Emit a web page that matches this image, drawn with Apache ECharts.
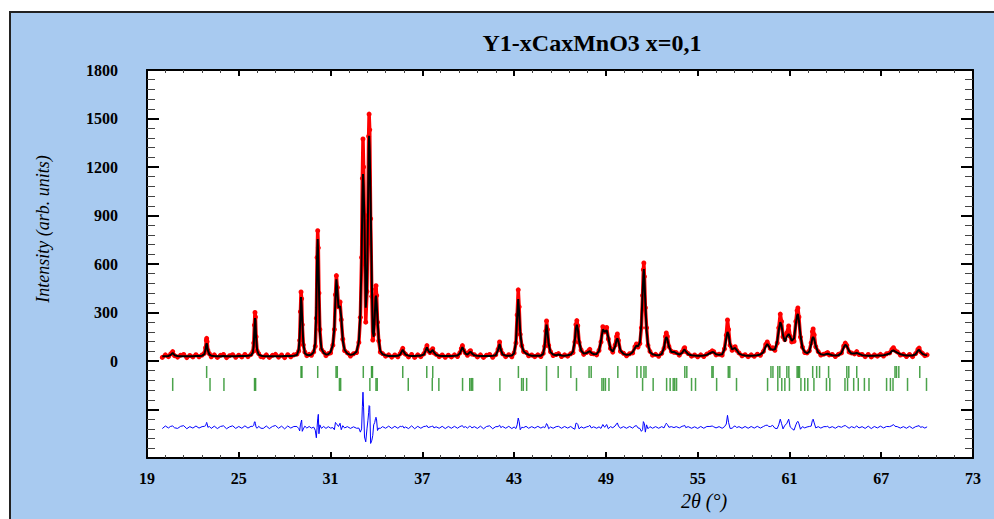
<!DOCTYPE html>
<html>
<head>
<meta charset="utf-8">
<title>Y1-xCaxMnO3 x=0,1</title>
<script src="https://cdn.jsdelivr.net/npm/echarts@6/dist/echarts.min.js"></script>
<style>
  html, body { margin: 0; padding: 0; background: #fff; overflow: hidden; }
  #frame { position: absolute; left: 9px; top: 11px; width: 990px; height: 515px; background: #a8caf0; border-left: 2px solid #222; border-top: 2px solid #222; }
  #chart { position: absolute; left: 0; top: 0; width: 994px; height: 519px; }
</style>
</head>
<body>
<div id="frame"></div>
<div id="chart"></div>
<script>
// rows: [2theta, observed, calculated]
const pattern = [
  [20.0,22,30],[20.2,38,30],[20.4,27,31],[20.55,44,38],[20.68,58,50],[20.8,33,36],[21.0,24,31],[21.2,36,30],[21.4,40,30],[21.6,21,30],
  [21.8,34,30],[22.0,25,30],[22.2,39,31],[22.4,26,31],[22.6,37,33],
  [22.75,48,42],[22.83,82,72],[22.88,128,104],[22.9,140,110],[22.93,120,98],[22.98,66,66],[23.08,45,40],[23.2,26,33],
  [23.4,38,31],[23.6,22,30],[23.8,35,30],[24.0,40,31],[24.2,21,30],[24.4,33,30],[24.6,39,30],[24.8,23,30],[25.0,36,31],[25.2,25,31],
  [25.4,40,31],[25.6,27,32],[25.8,41,35],
  [25.92,58,52],[25.98,112,100],[26.02,222,190],[26.06,300,265],[26.09,272,250],[26.13,150,150],[26.2,62,68],[26.3,46,40],[26.45,27,33],
  [26.6,24,31],[26.8,38,30],[27.0,22,30],[27.2,35,30],[27.4,41,30],[27.6,24,30],[27.8,37,30],[28.0,21,31],[28.2,39,31],[28.4,26,31],
  [28.6,38,33],[28.8,42,37],
  [28.92,62,70],[28.98,128,150],[29.03,305,290],[29.07,427,396],[29.11,385,340],[29.15,225,250],[29.22,100,110],[29.32,55,48],
  [29.45,33,38],[29.6,41,36],[29.75,35,40],[29.9,56,55],
  [30.0,92,110],[30.07,265,330],[30.12,640,640],[30.16,806,754],[30.2,700,620],[30.24,420,460],[30.3,195,180],[30.4,72,78],
  [30.55,55,50],[30.7,33,40],[30.85,46,42],[31.0,50,55],[31.15,98,100],
  [31.25,195,210],[31.32,410,380],[31.38,528,505],[31.44,455,440],[31.52,335,330],[31.62,365,340],[31.7,255,270],[31.8,135,125],
  [31.92,64,68],[32.1,50,46],[32.3,31,38],[32.5,45,42],[32.7,52,58],[32.85,115,120],[32.95,270,300],
  [33.03,640,650],[33.08,1130,1000],[33.12,1373,1156],[33.16,1200,1080],[33.22,790,850],[33.3,240,330],[33.38,430,440],
  [33.44,900,860],[33.49,1390,1300],[33.52,1527,1393],[33.56,1430,1300],[33.62,880,980],[33.7,400,480],[33.76,130,180],
  [33.82,165,150],[33.89,310,280],[33.94,445,390],[33.97,466,404],[34.01,405,360],[34.07,240,260],[34.15,125,130],[34.25,55,62],
  [34.4,46,42],[34.6,30,36],
  [34.8,38,31],[35.0,24,31],[35.2,37,31],[35.4,26,32],[35.55,46,40],[35.65,62,58],[35.72,78,70],[35.8,50,55],[35.9,42,40],
  [36.1,25,33],[36.3,40,31],[36.5,22,31],[36.7,38,32],[36.9,27,33],[37.1,45,40],[37.22,72,66],[37.3,95,85],[37.38,63,65],
  [37.5,52,50],[37.6,65,60],[37.68,76,68],[37.76,50,54],[37.9,41,38],[38.1,27,33],[38.3,37,31],[38.5,23,31],[38.7,36,31],
  [38.9,25,31],[39.1,38,32],[39.3,28,34],[39.45,50,46],[39.55,78,70],[39.62,95,85],[39.7,67,68],[39.82,50,46],[39.95,35,40],
  [40.08,58,52],[40.15,64,58],[40.24,43,47],[40.4,39,35],[40.6,25,32],[40.8,38,31],[41.0,22,31],[41.2,36,31],[41.4,40,31],
  [41.6,23,32],[41.8,39,35],[41.95,72,68],[42.05,118,105],[42.13,68,70],[42.25,45,40],[42.45,27,33],[42.65,39,33],[42.85,26,34],
  [43.0,50,48],[43.12,112,120],[43.2,285,270],[43.27,440,383],[43.33,335,300],[43.4,165,180],[43.5,95,95],[43.62,58,60],
  [43.78,53,47],[43.95,32,38],[44.15,37,33],[44.35,27,32],[44.55,38,32],[44.75,28,33],[44.9,47,44],[45.0,92,95],[45.07,185,175],
  [45.12,248,225],[45.18,195,180],[45.26,96,105],[45.38,57,55],[45.55,34,40],[45.75,40,36],[45.9,46,40],[46.1,28,34],[46.3,38,33],
  [46.5,30,35],[46.7,45,40],[46.85,52,58],[46.97,118,130],[47.04,225,200],[47.1,250,225],[47.16,218,200],[47.25,115,125],
  [47.38,68,65],[47.55,41,46],[47.75,53,50],[47.88,64,58],[47.95,72,60],[48.05,46,50],[48.2,45,42],[48.4,38,44],[48.55,65,62],
  [48.68,118,125],[48.8,212,195],[48.92,180,180],[49.05,207,190],[49.16,136,145],[49.3,78,74],[49.45,55,58],[49.6,98,90],
  [49.7,152,130],[49.75,167,140],[49.82,128,120],[49.95,60,66],[50.15,48,44],[50.35,32,38],[50.55,45,40],[50.75,50,55],
  [50.9,88,80],[51.0,105,95],[51.1,86,90],[51.22,108,115],[51.32,205,230],[51.4,405,420],[51.45,565,530],[51.48,606,569],
  [51.52,522,500],[51.58,330,360],[51.66,205,190],[51.75,96,105],[51.88,60,56],[52.05,36,42],[52.25,41,37],[52.45,29,35],
  [52.65,48,44],[52.8,78,82],[52.9,152,135],[52.95,173,148],[53.02,152,135],[53.12,90,90],[53.28,60,56],[53.45,54,56],
  [53.6,52,48],[53.8,36,40],[53.98,56,50],[54.1,77,68],[54.15,82,70],[54.22,58,60],[54.38,46,42],[54.6,30,36],[54.8,37,34],
  [55.0,26,33],[55.2,38,33],[55.4,28,34],[55.6,43,38],[55.8,53,48],[55.95,63,55],[56.05,57,54],[56.2,38,42],[56.4,42,38],
  [56.6,36,42],[56.75,75,72],[56.87,160,140],[56.95,254,180],[57.02,195,165],[57.12,98,105],[57.25,66,72],[57.38,84,78],
  [57.45,88,80],[57.55,66,68],[57.7,50,46],[57.9,32,38],[58.1,39,34],[58.3,27,33],[58.5,38,33],[58.7,29,34],[58.9,42,36],
  [59.1,35,40],[59.3,60,55],[59.45,102,90],[59.55,118,105],[59.65,97,92],[59.75,78,74],[59.9,82,70],[60.05,66,72],
  [60.2,112,120],[60.3,205,190],[60.4,290,240],[60.48,245,220],[60.58,150,160],[60.7,132,120],[60.82,172,150],[60.95,217,167],
  [61.05,152,150],[61.15,118,125],[61.3,122,140],[61.42,245,230],[61.5,312,280],[61.55,328,291],[61.62,272,250],[61.72,148,160],
  [61.85,86,82],[62.0,52,56],[62.15,50,48],[62.3,63,58],[62.42,112,105],[62.5,182,140],[62.55,198,148],[62.62,162,135],
  [62.72,88,92],[62.88,58,54],[63.05,37,42],[63.25,42,38],[63.42,48,44],[63.5,52,45],[63.6,38,42],[63.8,40,36],[64.0,28,34],
  [64.2,41,35],[64.4,50,50],[64.55,93,85],[64.65,111,100],[64.75,96,92],[64.9,56,62],[65.05,50,46],[65.25,44,47],[65.4,58,50],
  [65.55,40,44],[65.75,40,36],[65.95,27,34],[66.15,40,33],[66.35,25,33],[66.55,38,33],[66.75,30,34],[66.95,41,34],[67.15,31,35],
  [67.35,45,40],[67.55,50,46],[67.7,72,62],[67.8,82,65],[67.9,66,60],[68.05,56,52],[68.25,37,42],[68.45,41,37],[68.65,28,34],
  [68.85,40,34],[69.05,27,34],[69.25,46,42],[69.4,72,64],[69.48,80,70],[69.56,58,58],[69.7,47,44],[69.85,33,38],[70.0,38,35]
];

// Bragg reflection positions (2theta), two rows of ticks
const braggPhase1 = [22.90, 29.07, 29.13, 30.16, 31.36, 31.44, 33.14, 33.68, 33.74, 35.72, 37.29, 37.68, 43.28, 45.12,
  45.88, 46.71, 47.90, 48.04, 49.78, 51.03, 51.29, 51.49, 51.62, 54.16, 54.29, 55.93, 56.01, 57.00, 57.10, 59.79, 59.92,
  60.24, 60.37, 60.83, 60.96, 61.50, 61.58, 61.66, 62.52, 62.78, 62.97, 63.56, 64.75, 64.88, 65.40, 67.90, 68.00, 68.15, 69.52];
const braggPhase2 = [20.68, 23.12, 24.03, 26.03, 26.10, 31.58, 31.66, 33.57, 33.97, 34.05, 36.08, 37.65, 38.08, 39.63,
  40.10, 40.20, 40.29, 42.07, 43.49, 43.60, 43.82, 45.12, 47.08, 48.74, 48.85, 48.97, 49.20, 51.40, 52.09, 52.97, 53.20,
  53.40, 53.50, 53.62, 54.60, 54.86, 56.24, 57.54, 59.57, 60.24, 60.50, 60.70, 61.00, 61.75, 62.00, 62.20, 62.60, 63.42,
  63.64, 64.63, 64.80, 65.20, 65.50, 65.90, 66.20, 67.35, 67.60, 67.77, 68.72, 69.96];

const xRange = [19, 73, 6];      // min, max, step
const yRange = [-600, 1800, 300];

// where the extra rows sit below zero
const row1Y = -68;
const row2Y = -145;
const diffOffset = -410;

const serif = '"Liberation Serif", "Times New Roman", serif';

const obsData = pattern.map(r => [r[0], r[1]]);
const calcData = pattern.map(r => [r[0], r[2]]);
const diffData = pattern.map(r => [r[0], r[1] - r[2] + diffOffset]);

function xAxisOf (pos) {
  return {
    type: 'value',
    position: pos,
    min: xRange[0],
    max: xRange[1],
    interval: xRange[2],
    axisLine: { onZero: false, lineStyle: { color: '#000', width: 2 } },
    axisTick: { inside: true, length: 6, lineStyle: { color: '#000', width: 2 } },
    minorTick: { show: true, splitNumber: 5, length: 3, lineStyle: { color: '#444', width: 1 } },
    splitLine: { show: false },
    axisLabel: {
      show: pos === 'bottom',
      margin: 12,
      color: '#000',
      fontFamily: serif,
      fontWeight: 'bold',
      fontSize: 16
    }
  }
}

function yAxisOf (pos) {
  return {
    type: 'value',
    position: pos,
    min: yRange[0],
    max: yRange[1],
    interval: yRange[2],
    axisLine: { onZero: false, lineStyle: { color: '#000', width: 2 } },
    axisTick: { inside: true, length: 12, lineStyle: { color: '#000', width: 2 } },
    minorTick: { show: true, splitNumber: 5, length: 8, lineStyle: { color: '#444', width: 1 } },
    splitLine: { show: false },
    axisLabel: {
      show: pos === 'left',
      margin: 29,
      color: '#000',
      fontFamily: serif,
      fontWeight: 'bold',
      fontSize: 16,
      // only the intensity part carries labels
      formatter: v => (v < 0 ? '' : String(v))
    }
  }
}

const chart = echarts.init(document.getElementById('chart'), null, { renderer: 'svg' });

chart.setOption({
  animation: false,
  grid: { left: 147, top: 70, width: 826, height: 388, show: true, backgroundColor: '#fff', borderWidth: 0 },
  graphic: [
    {
      type: 'text', x: 592, y: 43,
      style: { text: 'Y1-xCaxMnO3 x=0,1', fontFamily: serif, fontWeight: 'bold', fontSize: 24, fill: '#000', align: 'center', verticalAlign: 'middle' }
    },
    {
      type: 'text', x: 43, y: 229, rotation: Math.PI / 2,
      style: { text: 'Intensity (arb. units)', fontFamily: serif, fontStyle: 'italic', fontSize: 18, fill: '#000', align: 'center', verticalAlign: 'middle' }
    },
    {
      type: 'text', x: 704, y: 501,
      style: { text: '2θ (°)', fontFamily: serif, fontStyle: 'italic', fontSize: 20, fill: '#000', align: 'center', verticalAlign: 'middle' }
    }
  ],
  xAxis: [xAxisOf('bottom'), xAxisOf('top')],
  yAxis: [yAxisOf('left'), yAxisOf('right')],
  series: [
    {
      name: 'Yobs',
      type: 'line',
      data: obsData,
      showAllSymbol: true,
      symbol: 'circle',
      symbolSize: 5,
      itemStyle: { color: '#ff0000' },
      lineStyle: { color: '#ff0000', width: 3.5 },
      z: 2
    },
    {
      name: 'Ycalc',
      type: 'line',
      data: calcData,
      symbol: 'none',
      lineStyle: { color: '#000', width: 2 },
      z: 3
    },
    {
      name: 'Yobs-Ycalc',
      type: 'line',
      data: diffData,
      symbol: 'none',
      lineStyle: { color: '#0000ff', width: 1 },
      z: 3
    },
    {
      name: 'Bragg 1',
      type: 'scatter',
      data: braggPhase1.map(p => [p, row1Y]),
      symbol: 'rect',
      symbolSize: [1.5, 12],
      itemStyle: { color: '#1e8c1e' },
      z: 3
    },
    {
      name: 'Bragg 2',
      type: 'scatter',
      data: braggPhase2.map(p => [p, row2Y]),
      symbol: 'rect',
      symbolSize: [1.5, 13],
      itemStyle: { color: '#1e8c1e' },
      z: 3
    }
  ]
});
</script>
</body>
</html>
